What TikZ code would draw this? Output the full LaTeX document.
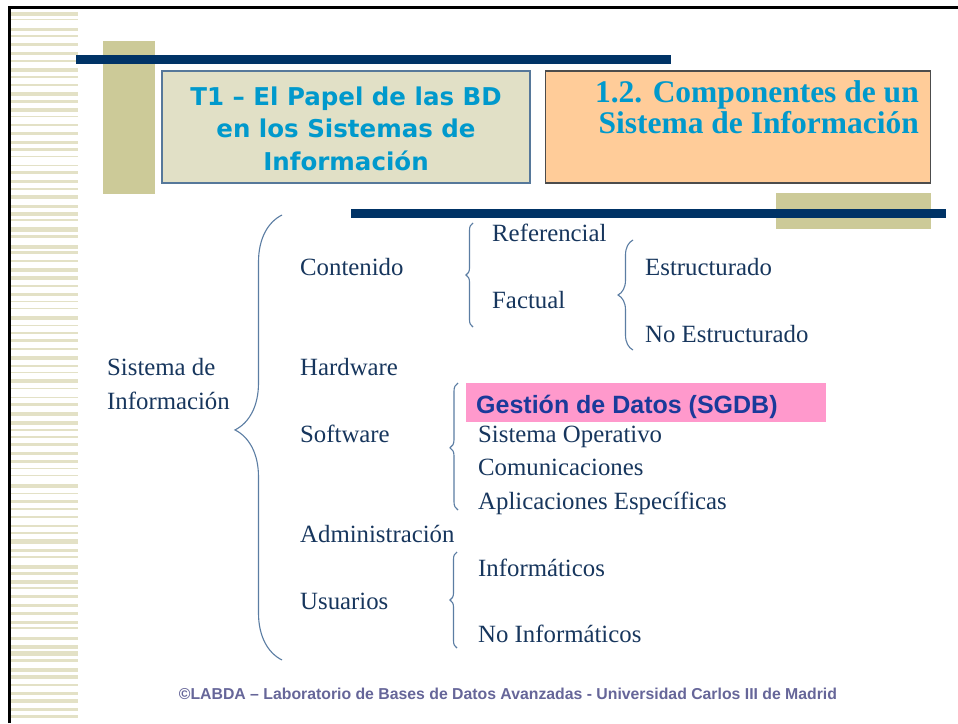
\documentclass[tikz,border=0pt]{standalone}
\usepackage{fontspec}
\setmainfont{Liberation Serif}
\newfontfamily\arialfont{Liberation Sans}
\newfontfamily\verdanafont{DejaVu Sans}
\usetikzlibrary{decorations.pathreplacing}
\definecolor{raya}{HTML}{E3E1C6}
\definecolor{caqui}{HTML}{CCCA98}
\definecolor{marino}{HTML}{003366}
\definecolor{cajaizq}{HTML}{E1E0C6}
\definecolor{bordeizq}{HTML}{56789A}
\definecolor{cian}{HTML}{0099CC}
\definecolor{naranja}{HTML}{FFCC99}
\definecolor{azultexto}{HTML}{17365D}
\definecolor{azulllave}{HTML}{5B7DA3}
\definecolor{rosa}{HTML}{FF99CC}
\definecolor{azulsgdb}{HTML}{1A3A9A}
\definecolor{pie}{HTML}{666699}

\begin{document}
\begin{tikzpicture}[x=1pt,y=-1pt,
	texto/.style={anchor=base west,inner sep=0pt,text=azultexto,font=\fontsize{24.8}{33}\selectfont},
	llave/.style={draw=azulllave,line width=1.1pt,decorate}]
		\useasboundingbox[fill=white] (0,0) rectangle (958,723);
		%Rayas
		\pgfmathsetseed{5}
		\foreach \i in {0,...,88}{
			\pgfmathsetmacro\ry{11+8*\i+2*rnd}
			\pgfmathsetmacro\rh{0.8+3.6*rnd}
			\fill[raya] (11,\ry) rectangle (78,\ry+\rh);
		}
		\draw[line width=3pt] (9.5,723) -- (9.5,7.5) -- (958,7.5);
		%Cabecera
		\fill[caqui] (103,41) rectangle (155,194);
		\fill[marino] (76,55) rectangle (671,64);
		\node[draw=bordeizq,fill=cajaizq,line width=1.5pt,minimum width=368,minimum height=112,inner sep=0pt]
		(cajat1) at (346,127) {};
		\node[anchor=base,align=center,inner sep=0pt,text=cian,font=\verdanafont\bfseries\fontsize{24.5}{32.5}\selectfont]
		(titulot1) at (346,170) {T1 – El Papel de las BD\\en los Sistemas de\\Información};
		\node[draw=black!70,fill=naranja,line width=1.2pt,minimum width=385,minimum height=112,inner sep=0pt]
		(cajacomp) at (738,127) {};
		\node[anchor=base east,align=right,inner sep=0pt,text=cian,font=\bfseries\fontsize{31.5}{31}\selectfont]
		(titulocomp) at (919,133) {1.2. Componentes de un\\Sistema de Información};
		\fill[caqui] (776,193) rectangle (931,229);
		\fill[marino] (351,209) rectangle (946,218);
		%Esquema
		\node[texto] (sistema) at (107,375) {Sistema de};
		\node[texto] (informacion) at (107,409) {Información};
		\node[texto] (contenido) at (300,275) {Contenido};
		\node[texto] (hardware) at (300,375) {Hardware};
		\node[texto] (software) at (300,442) {Software};
		\node[texto] (administracion) at (300,542) {Administración};
		\node[texto] (usuarios) at (300,609) {Usuarios};
		\node[texto] (referencial) at (492,241) {Referencial};
		\node[texto] (factual) at (492,308) {Factual};
		\node[texto] (estructurado) at (645,275) {Estructurado};
		\node[texto] (noestructurado) at (645,342) {No Estructurado};
		\fill[rosa] (466,383) rectangle (826,422);
		\node[anchor=base west,inner sep=0pt,text=azulsgdb,font=\arialfont\bfseries\fontsize{25}{30}\selectfont]
		(sgdb) at (476,413) {Gestión de Datos (SGDB)};
		\node[texto] (operativo) at (478,442) {Sistema Operativo};
		\node[texto] (comunicaciones) at (478,475) {Comunicaciones};
		\node[texto] (aplicaciones) at (478,509) {Aplicaciones Específicas};
		\node[texto] (informaticos) at (478,576) {Informáticos};
		\node[texto] (noinformaticos) at (478,642) {No Informáticos};
		%Llaves
		\coordinate (llaveA1) at (282,660);
		\coordinate (llaveA2) at (282,215);
		\draw[llave,decoration={brace,amplitude=47pt,aspect=0.517}] (llaveA1) -- (llaveA2);
		\coordinate (llaveB1) at (473,327);
		\coordinate (llaveB2) at (473,223);
		\draw[llave,decoration={brace,amplitude=7pt,aspect=0.5}] (llaveB1) -- (llaveB2);
		\coordinate (llaveC1) at (633,350);
		\coordinate (llaveC2) at (633,240);
		\draw[llave,decoration={brace,amplitude=15pt,aspect=0.5}] (llaveC1) -- (llaveC2);
		\coordinate (llaveD1) at (458,510);
		\coordinate (llaveD2) at (458,383);
		\draw[llave,decoration={brace,amplitude=8pt,aspect=0.49}] (llaveD1) -- (llaveD2);
		\coordinate (llaveE1) at (457,648);
		\coordinate (llaveE2) at (457,552);
		\draw[llave,decoration={brace,amplitude=7pt,aspect=0.5}] (llaveE1) -- (llaveE2);
		%Pie
		\node[anchor=base,inner sep=0pt,text=pie,font=\arialfont\bfseries\fontsize{15.8}{18}\selectfont]
		(pie) at (508,699) {©LABDA – Laboratorio de Bases de Datos Avanzadas - Universidad Carlos III de Madrid};
\end{tikzpicture}
\end{document}
